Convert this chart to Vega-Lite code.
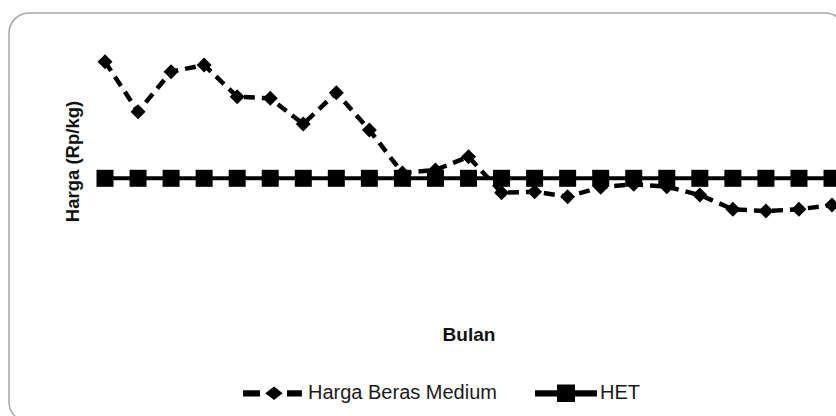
{
  "$schema": "https://vega.github.io/schema/vega-lite/v6.json",
  "autosize": "none",
  "width": 836,
  "height": 409,
  "padding": {"left": 9, "top": 13, "right": -9, "bottom": -6},
  "background": "white",
  "config": {
    "view": {"stroke": "#a6a6a6", "strokeWidth": 1.5, "cornerRadius": 20, "fill": "white"},
    "axis": {"labels": false, "ticks": false, "domain": false, "grid": false}
  },
  "data": {
    "values": [
      {"bulan": 1, "seri": "Harga Beras Medium", "harga": 10616},
      {"bulan": 2, "seri": "Harga Beras Medium", "harga": 10116},
      {"bulan": 3, "seri": "Harga Beras Medium", "harga": 10516},
      {"bulan": 4, "seri": "Harga Beras Medium", "harga": 10583},
      {"bulan": 5, "seri": "Harga Beras Medium", "harga": 10266},
      {"bulan": 6, "seri": "Harga Beras Medium", "harga": 10250},
      {"bulan": 7, "seri": "Harga Beras Medium", "harga": 9993},
      {"bulan": 8, "seri": "Harga Beras Medium", "harga": 10306},
      {"bulan": 9, "seri": "Harga Beras Medium", "harga": 9933},
      {"bulan": 10, "seri": "Harga Beras Medium", "harga": 9503},
      {"bulan": 11, "seri": "Harga Beras Medium", "harga": 9533},
      {"bulan": 12, "seri": "Harga Beras Medium", "harga": 9666},
      {"bulan": 13, "seri": "Harga Beras Medium", "harga": 9305},
      {"bulan": 14, "seri": "Harga Beras Medium", "harga": 9316},
      {"bulan": 15, "seri": "Harga Beras Medium", "harga": 9266},
      {"bulan": 16, "seri": "Harga Beras Medium", "harga": 9360},
      {"bulan": 17, "seri": "Harga Beras Medium", "harga": 9390},
      {"bulan": 18, "seri": "Harga Beras Medium", "harga": 9366},
      {"bulan": 19, "seri": "Harga Beras Medium", "harga": 9283},
      {"bulan": 20, "seri": "Harga Beras Medium", "harga": 9140},
      {"bulan": 21, "seri": "Harga Beras Medium", "harga": 9123},
      {"bulan": 22, "seri": "Harga Beras Medium", "harga": 9140},
      {"bulan": 23, "seri": "Harga Beras Medium", "harga": 9183},
      {"bulan": 1, "seri": "HET", "harga": 9450},
      {"bulan": 2, "seri": "HET", "harga": 9450},
      {"bulan": 3, "seri": "HET", "harga": 9450},
      {"bulan": 4, "seri": "HET", "harga": 9450},
      {"bulan": 5, "seri": "HET", "harga": 9450},
      {"bulan": 6, "seri": "HET", "harga": 9450},
      {"bulan": 7, "seri": "HET", "harga": 9450},
      {"bulan": 8, "seri": "HET", "harga": 9450},
      {"bulan": 9, "seri": "HET", "harga": 9450},
      {"bulan": 10, "seri": "HET", "harga": 9450},
      {"bulan": 11, "seri": "HET", "harga": 9450},
      {"bulan": 12, "seri": "HET", "harga": 9450},
      {"bulan": 13, "seri": "HET", "harga": 9450},
      {"bulan": 14, "seri": "HET", "harga": 9450},
      {"bulan": 15, "seri": "HET", "harga": 9450},
      {"bulan": 16, "seri": "HET", "harga": 9450},
      {"bulan": 17, "seri": "HET", "harga": 9450},
      {"bulan": 18, "seri": "HET", "harga": 9450},
      {"bulan": 19, "seri": "HET", "harga": 9450},
      {"bulan": 20, "seri": "HET", "harga": 9450},
      {"bulan": 21, "seri": "HET", "harga": 9450},
      {"bulan": 22, "seri": "HET", "harga": 9450},
      {"bulan": 23, "seri": "HET", "harga": 9450}
    ]
  },
  "encoding": {
    "x": {
      "field": "bulan", "type": "quantitative",
      "scale": {"domain": [-1.905, 23.393], "nice": false, "zero": false},
      "axis": {"title": "Bulan", "titleFont": "Liberation Sans", "titleFontSize": 19, "titleFontWeight": "bold", "titleColor": "#111", "titleX": 459.5, "titleY": -88, "titleBaseline": "middle", "titleAlign": "center"}
    },
    "y": {
      "field": "harga", "type": "quantitative",
      "scale": {"domain": [7013, 11103], "nice": false, "zero": false},
      "axis": {"title": "Harga (Rp/kg)", "titleFont": "Liberation Sans", "titleFontSize": 18.5, "titleFontWeight": "bold", "titleColor": "#111", "titleX": 63, "titleY": 148, "titleBaseline": "middle", "titleAlign": "center", "titleAngle": 270}
    }
  },
  "layer": [
    {
      "transform": [{"filter": "datum.seri === 'Harga Beras Medium'"}],
      "mark": {"type": "line", "color": "black", "strokeWidth": 4.5, "strokeDash": [11, 7]}
    },
    {
      "transform": [{"filter": "datum.seri === 'Harga Beras Medium'"}],
      "mark": {"type": "point", "shape": "diamond", "filled": true, "size": 225, "color": "black", "opacity": 1}
    },
    {
      "transform": [{"filter": "datum.seri === 'HET'"}],
      "mark": {"type": "line", "color": "black", "strokeWidth": 4}
    },
    {
      "transform": [{"filter": "datum.seri === 'HET'"}],
      "mark": {"type": "point", "shape": "square", "filled": true, "size": 289, "color": "black", "opacity": 1}
    },
    {
      "mark": {"type": "point", "filled": true, "opacity": 0, "size": 1, "color": "black"},
      "encoding": {
        "shape": {
          "field": "seri", "type": "nominal",
          "scale": {
            "domain": ["Harga Beras Medium", "HET"],
            "range": [
              "M-1,-0.1H-0.45V0.1H-1ZM0.42,-0.1H0.9V0.1H0.42ZM0,-0.22L0.28,0L0,0.22L-0.28,0Z",
              "M-1,-0.1H1V0.1H-1ZM-0.29,-0.28H0.29V0.28H-0.29Z"
            ]
          },
          "legend": {
            "title": null,
            "orient": "none",
            "direction": "horizontal",
            "legendX": 234,
            "legendY": 349.3,
            "padding": 0,
            "symbolSize": 3844,
            "symbolFillColor": "black",
            "symbolStrokeWidth": 0,
            "symbolOpacity": 1,
            "labelFont": "Liberation Sans",
            "labelFontSize": 20,
            "labelColor": "#1a1a1a",
            "labelOffset": 3,
            "columnPadding": 38,
            "labelLimit": 400
          }
        }
      }
    }
  ]
}
